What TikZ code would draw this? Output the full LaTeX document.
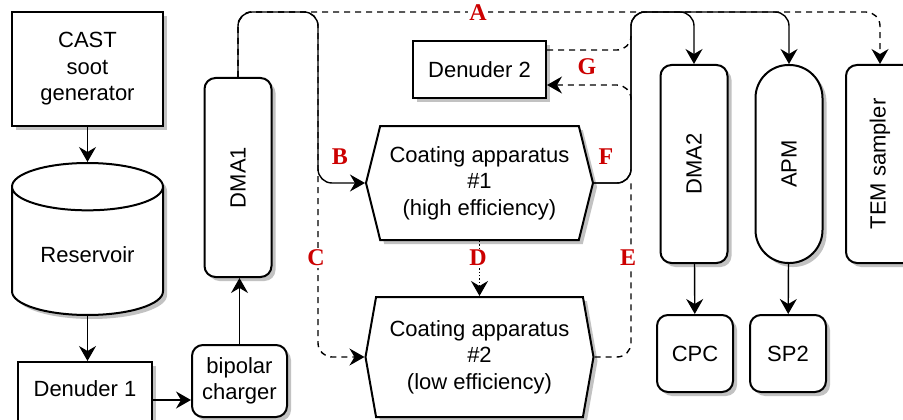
\documentclass[tikz,border=0pt]{standalone}
\usepackage{fontspec}
\setmainfont{Liberation Sans}
\newfontfamily\letterfont{Liberation Serif}
\usetikzlibrary{arrows.meta,shapes.geometric,shapes.symbols,shadows}
\definecolor{letterred}{HTML}{CC0000}
\definecolor{shadowgray}{HTML}{C2C2C2}

\begin{document}
\begin{tikzpicture}[x=1pt,y=-1pt,line width=1.4pt,font=\fontsize{22}{26.5}\selectfont,
  shadowed/.style={drop shadow={shadow xshift=4pt,shadow yshift=-4pt,fill=shadowgray,opacity=1}},
  box/.style={draw,line width=2pt,fill=white,shadowed,align=center,inner sep=0pt},
  rbox/.style={box,rounded corners=11pt},
  coater/.style={box,shape=signal,signal to=west and east},
  arr/.style={-{Stealth[length=15pt,width=17pt,inset=5pt]}},
  flow/.style={arr,rounded corners=14pt},
  bypassline/.style={dash pattern=on 6pt off 5pt,rounded corners=14pt},
  bypass/.style={bypassline,arr},
  letter/.style={text=letterred,font=\letterfont\bfseries\fontsize{24}{24}\selectfont,inner sep=1.5pt},
  letterbg/.style={letter,fill=white}]
\useasboundingbox (0,0) rectangle (903,420);

\node[box,minimum width=151pt,minimum height=114pt] (cast) at (87.5,69) {CAST\\soot\\generator};
\node[draw,line width=2pt,fill=white,shadowed,cylinder,shape border rotate=90,aspect=7.1,minimum width=151pt,minimum height=152pt,
  anchor=shape center,label={center:Reservoir}] (res) at (87.5,239) {};
\node[box,minimum width=134pt,minimum height=76pt,label={[yshift=11pt]center:Denuder 1}] (den1) at (85,400) {};
\node[rbox,minimum width=95pt,minimum height=72pt] (charger) at (239.5,381) {bipolar\\charger};
\node[rbox,minimum width=67pt,minimum height=199pt] (dma1) at (238,177.5) {};
\node[rotate=90] at (dma1) {DMA1};
\node[box,minimum width=133pt,minimum height=57pt] (den2) at (479.5,69.5) {Denuder 2};
\node[coater,signal pointer angle=152,minimum width=227pt,minimum height=114pt] (coat1) at (479.5,183) {Coating apparatus\\\#1\\(high efficiency)};
\node[coater,signal pointer angle=160,minimum width=228pt,minimum height=120pt] (coat2) at (479.5,357) {Coating apparatus\\\#2\\(low efficiency)};
\node[rbox,minimum width=67pt,minimum height=198pt] (dma2) at (694,164) {};
\node[rotate=90] at (dma2) {DMA2};
\node[box,rounded corners=33pt,minimum width=67pt,minimum height=198pt] (apm) at (789,164) {};
\node[rotate=90] at (apm) {APM};
\node[rbox,minimum width=68pt,minimum height=198pt] (tem) at (880,164) {};
\node[rotate=90] at (tem) {TEM sampler};
\node[rbox,minimum width=76pt,minimum height=77pt] (cpc) at (695,353.5) {CPC};
\node[rbox,minimum width=76pt,minimum height=77pt] (sp2) at (788,353.5) {SP2};

\coordinate (ltop) at (318,12);
\coordinate (rtop) at (631,12);
\coordinate (gin) at (631,100);
\coordinate (gout) at (631,36);

\draw[arr] (cast.south) -- (res.north);
\draw[arr] (res.south) -- (res.south |- den1.north);
\draw[arr] (den1.east) -- (den1.east -| charger.west);
\draw[arr] (charger) -- (charger |- dma1.south);
\draw[flow] (dma1.north) |- (ltop) |- (coat1.west);
\draw[bypass] (dma1.north) |- (ltop) |- (coat2.west);
\draw[bypass] (dma1.north) |- (ltop) -| (tem.north);
\draw[arr,dotted] (coat1.south) -- (coat2.north);
\draw[flow] (coat1.east) -| (rtop) -| (dma2.north);
\draw[flow] (coat1.east) -| (rtop) -| (apm.north);
\draw[bypassline] (coat2.east) -| (rtop |- coat1.east);
\draw[bypass] (gin) |- ([yshift=-15.5pt]den2.east);
\draw[bypassline] ([yshift=19.5pt]den2.east) -| (gout);
\draw[arr] (dma2) -- (cpc);
\draw[arr] (apm) -- (sp2);

\node[letterbg] at (478,13) {A};
\node[letter] at (340,157) {B};
\node[letterbg] at (316,258) {C};
\node[letterbg] at (478,258) {D};
\node[letterbg] at (628,258) {E};
\node[letter] at (606,157) {F};
\node[letter] at (587,67) {G};
\end{tikzpicture}
\end{document}
